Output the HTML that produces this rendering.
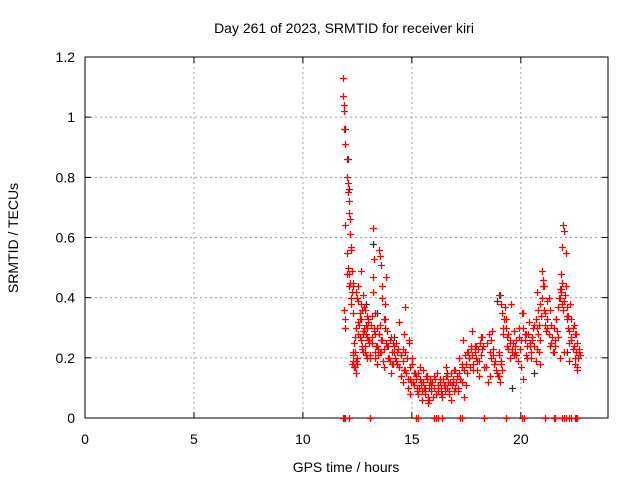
<!DOCTYPE html>
<html><head><meta charset="utf-8"><style>
body{margin:0;background:#fff}
svg{display:block;font-family:"Liberation Sans",sans-serif}
</style></head><body>
<svg id="chart" width="640" height="480" viewBox="0 0 640 480">
<rect width="640" height="480" fill="#fff"/>
<text x="344" y="33" font-size="14" text-anchor="middle">Day 261 of 2023, SRMTID for receiver kiri</text>
<g id="grid"></g>
<g id="axes"></g>
<g id="black"></g>
<g id="red"></g>
<text x="346" y="472" font-size="14" text-anchor="middle">GPS time / hours</text>
<text transform="translate(18,238) rotate(-90)" font-size="14" text-anchor="middle">SRMTID / TECUs</text>
</svg>
<script>
const xTicks=[0,5,10,15,20];
const yTicks=[0,0.2,0.4,0.6,0.8,1,1.2];
const yTickLabels=["0","0.2","0.4","0.6","0.8","1","1.2"];
const redT=[11.85,11.86,11.87,11.88,11.9,11.95,12.0,12.02,12.05,12.07,12.1,12.12,12.15,12.18,12.2,12.22,12.25,11.95,12.0,12.05,12.1,12.15,12.2,12.25,11.9,11.92,11.95,12.0,12.1,12.2,12.3,12.35,12.4,12.45,12.5,12.55,12.6,12.65,12.7,12.75,12.8,12.85,12.9,12.95,13.0,12.3,12.4,12.5,12.6,12.7,12.8,12.9,13.0,12.35,12.45,12.55,12.65,12.75,12.85,12.95,13.05,13.1,13.15,13.2,13.25,13.3,13.35,13.4,13.2,13.22,13.25,13.3,13.5,13.55,13.6,13.62,13.65,13.7,13.5,13.6,13.7,13.8,13.9,14.0,14.1,14.2,13.75,13.85,13.95,14.05,14.15,14.25,14.3,14.4,14.5,14.6,14.65,14.7,14.4,14.5,14.6,14.7,14.8,14.85,14.9,15.0,15.1,15.2,15.3,15.4,15.5,15.6,15.7,15.8,15.9,16.0,14.9,15.05,15.15,15.25,15.35,15.45,15.55,15.65,15.75,15.85,16.1,16.2,16.3,16.4,16.5,16.6,16.7,16.8,16.9,17.0,16.15,16.35,16.55,16.75,16.95,17.1,17.2,17.3,17.4,17.5,17.6,17.7,17.8,17.9,18.0,18.1,18.2,18.3,17.15,17.35,17.55,17.75,17.95,18.15,18.4,18.5,18.6,18.7,18.8,18.45,18.65,18.85,18.95,19.0,19.05,19.1,19.15,19.2,19.0,19.1,19.3,19.4,19.5,19.6,19.7,19.8,19.85,19.35,19.55,19.75,19.9,20.0,20.1,20.2,20.3,20.4,20.5,20.6,20.05,20.25,20.45,20.7,20.75,20.8,20.85,20.9,20.95,21.0,20.75,20.9,21.05,21.1,21.2,21.3,21.4,21.15,21.35,21.5,21.6,21.7,21.8,21.55,21.75,21.85,21.88,21.9,21.92,21.85,21.9,21.95,22.0,22.05,22.1,22.15,22.2,22.25,22.3,22.0,22.1,22.2,22.4,22.45,22.5,22.55,22.6,22.65,22.7,22.5,22.6,
12.28,12.32,12.38,12.42,12.48,12.52,12.58,12.62,12.68,12.72,12.78,12.82,12.88,12.92,12.98,13.02,13.08,13.12,13.18,13.28,13.32,13.38,13.42,13.45,13.48,13.52,13.58,13.68,13.72,13.78,13.82,13.88,13.92,13.98,14.02,14.08,14.12,14.18,14.22,14.28,14.32,14.38,14.42,14.48,14.52,14.58,14.62,14.68,14.72,14.78,14.82,14.88,14.92,14.98,15.02,15.08,15.12,15.18,15.22,15.28,15.32,15.38,15.42,15.48,15.52,15.58,15.62,15.68,15.72,15.78,15.82,15.88,15.92,15.98,16.02,16.08,16.12,16.18,16.22,16.28,16.32,16.38,16.42,16.48,16.52,16.58,16.62,16.68,16.72,16.78,16.82,16.88,16.92,16.98,17.02,17.08,17.12,17.18,17.22,17.28,17.32,17.38,17.42,17.48,17.52,17.58,17.62,17.68,17.72,17.78,17.82,17.88,17.92,17.98,18.02,18.08,18.12,18.18,18.22,18.28,18.52,18.58,18.62,18.68,18.72,18.78,18.92,18.98,19.02,19.08,19.12,19.18,19.22,19.28,19.32,19.38,19.42,19.48,19.52,19.58,19.62,19.68,19.72,19.78,19.92,19.98,20.02,20.08,20.12,20.18,20.22,20.28,20.32,20.38,20.42,20.48,20.52,20.58,20.62,20.68,20.72,20.78,20.82,20.88,20.92,20.98,21.02,21.08,21.12,21.18,21.22,21.28,21.32,21.38,21.42,21.48,21.52,21.58,21.62,21.68,21.72,21.78,21.82,21.98,22.02,22.08,22.12,22.18,22.22,22.28,22.32,22.38,22.42,22.48,22.52,22.58,22.62,22.68,12.25,12.3,12.35,12.45,12.55,12.65,12.75,12.85,12.95,13.05,13.15,13.3,13.45,13.55,13.65,13.75,13.85];
const redV=[1.13,1.07,1.04,1.02,0.96,0.91,0.86,0.80,0.78,0.75,0.72,0.68,0.66,0.61,0.57,0.56,0.49,0.64,0.55,0.50,0.48,0.45,0.40,0.42,0.36,0.33,0.30,0.48,0.44,0.38,0.35,0.25,0.22,0.30,0.40,0.28,0.33,0.26,0.36,0.22,0.30,0.24,0.28,0.20,0.32,0.45,0.27,0.18,0.35,0.24,0.29,0.21,0.26,0.17,0.42,0.32,0.38,0.28,0.22,0.34,0.25,0.20,0.27,0.63,0.53,0.35,0.24,0.18,0.47,0.42,0.30,0.20,0.56,0.54,0.51,0.44,0.40,0.33,0.28,0.22,0.17,0.25,0.20,0.26,0.18,0.22,0.30,0.24,0.20,0.15,0.25,0.19,0.22,0.17,0.14,0.23,0.28,0.37,0.32,0.21,0.12,0.16,0.10,0.25,0.13,0.18,0.11,0.14,0.08,0.12,0.16,0.09,0.13,0.06,0.11,0.14,0.08,0.12,0.15,0.10,0.17,0.06,0.10,0.14,0.05,0.12,0.08,0.10,0.13,0.07,0.11,0.14,0.09,0.06,0.12,0.10,0.15,0.08,0.17,0.12,0.16,0.09,0.13,0.18,0.07,0.11,0.20,0.24,0.16,0.22,0.19,0.14,0.23,0.17,0.20,0.26,0.22,0.29,0.24,0.27,0.17,0.12,0.14,0.21,0.19,0.25,0.20,0.16,0.14,0.22,0.12,0.18,0.35,0.30,0.41,0.38,0.33,0.28,0.25,0.23,0.21,0.26,0.19,0.24,0.38,0.22,0.30,0.17,0.13,0.28,0.20,0.24,0.26,0.31,0.35,0.28,0.22,0.33,0.30,0.36,0.22,0.18,0.49,0.46,0.42,0.38,0.44,0.35,0.30,0.40,0.25,0.29,0.36,0.22,0.33,0.27,0.20,0.24,0.40,0.42,0.45,0.38,0.36,0.48,0.57,0.64,0.62,0.55,0.33,0.30,0.25,0.38,0.27,0.22,0.34,0.19,0.23,0.31,0.20,0.28,0.17,0.23,0.21,0.18,0.16,0.22,0.19,0.17,0.15,0.20,
0.39,0.31,0.27,0.33,0.23,0.29,0.37,0.31,0.27,0.33,0.26,0.21,0.31,0.25,0.29,0.22,0.30,0.24,0.21,0.28,0.22,0.26,0.19,0.23,0.38,0.47,0.29,0.24,0.19,0.27,0.22,0.18,0.24,0.20,0.25,0.18,0.23,0.17,0.21,0.14,0.19,0.16,0.22,0.15,0.20,0.13,0.26,0.17,0.12,0.20,0.15,0.11,0.13,0.09,0.15,0.10,0.13,0.11,0.09,0.12,0.08,0.10,0.14,0.07,0.11,0.13,0.09,0.12,0.07,0.10,0.13,0.08,0.11,0.09,0.12,0.10,0.08,0.13,0.11,0.09,0.14,0.10,0.12,0.08,0.15,0.11,0.13,0.09,0.16,0.12,0.14,0.10,0.15,0.13,0.17,0.12,0.16,0.21,0.18,0.15,0.22,0.20,0.17,0.23,0.21,0.18,0.24,0.20,0.16,0.23,0.19,0.25,0.21,0.27,0.24,0.28,0.22,0.26,0.29,0.23,0.18,0.15,0.21,0.14,0.19,0.16,0.28,0.33,0.37,0.30,0.27,0.23,0.20,0.26,0.22,0.25,0.29,0.24,0.21,0.27,0.23,0.26,0.30,0.35,0.26,0.21,0.24,0.28,0.32,0.25,0.20,0.27,0.30,0.24,0.19,0.23,0.28,0.31,0.26,0.34,0.40,0.44,0.36,0.31,0.39,0.33,0.28,0.24,0.31,0.27,0.22,0.30,0.26,0.33,0.29,0.37,0.40,0.43,0.39,0.41,0.44,0.37,0.34,0.29,0.33,0.26,0.30,0.24,0.28,0.22,0.25,0.20,0.22,0.18,0.21,0.17,0.19,0.44,0.49,0.41,0.36,0.30,0.26,0.34,0.28,0.23,0.31,0.26,0.33,0.24,0.21,0.29,0.23,0.19];
const zeroT=[11.83,11.88,11.93,12.1,13.1,15.2,15.3,16.0,16.1,16.2,16.4,17.2,17.3,18.3,19.3,20.05,20.15,21.1,21.5,21.55,21.9,22.0,22.05,22.2,22.3,22.5,22.55,22.6];
const blackT=[11.95,12.05,12.1,12.3,12.9,13.2,13.4,14.2,15.8,16.6,18.9,19.05,19.6,20.6,21.4,21.85,22.1];
const blackV=[0.96,0.86,0.76,0.44,0.38,0.58,0.35,0.27,0.10,0.15,0.39,0.41,0.10,0.15,0.25,0.43,0.22];

const X0=85,X1=608,Y0=418,Y1=57;
const xs=h=>X0+h*(X1-X0)/24;
const ys=v=>Y0-v*(Y0-Y1)/1.2;
const NS="http://www.w3.org/2000/svg";
function mk(tag,attrs,parent){const e=document.createElementNS(NS,tag);for(const k in attrs)e.setAttribute(k,attrs[k]);parent.appendChild(e);return e;}
const grid=document.getElementById('grid'),axes=document.getElementById('axes');
xTicks.forEach(t=>{
  const x=xs(t);
  if(t>0){const g=mk('line',{x1:x,y1:Y1,x2:x,y2:Y0,stroke:'#a0a0a0','stroke-dasharray':'2,3'},grid);
  
  }
  mk('line',{x1:x,y1:Y0,x2:x,y2:Y0-6,stroke:'#000'},axes);
  mk('line',{x1:x,y1:Y1,x2:x,y2:Y1+6,stroke:'#000'},axes);
  const l=mk('text',{x:x,y:Y0+26,'font-size':14,'text-anchor':'middle'},axes);l.textContent=t;
  
  
});
yTicks.forEach((t,i)=>{
  const y=ys(t);
  if(i>0&&i<yTicks.length-1){const g=mk('line',{x1:X0,y1:y,x2:X1,y2:y,stroke:'#a0a0a0','stroke-dasharray':'2,3'},grid);
  
  }
  mk('line',{x1:X0,y1:y,x2:X0+6,y2:y,stroke:'#000'},axes);
  mk('line',{x1:X1,y1:y,x2:X1-6,y2:y,stroke:'#000'},axes);
  const l=mk('text',{x:X0-10,y:y+5,'font-size':14,'text-anchor':'end'},axes);l.textContent=yTickLabels[i];
  
  
});
mk('rect',{x:X0,y:Y1,width:X1-X0,height:Y0-Y1,fill:'none',stroke:'#000'},axes);
function plus(g,h,v,col){
  const x=Math.round(xs(h))+0.5,y=Math.round(ys(v))+0.5;
  const p=mk('path',{d:`M${x-3.5},${y}h7M${x},${y-3.5}v7`,stroke:col,'stroke-width':1.3},g);
  
  
}
const bg=document.getElementById('black'),rg=document.getElementById('red');
blackT.forEach((t,i)=>plus(bg,t,blackV[i],'#333'));
redT.forEach((t,i)=>plus(rg,t,redV[i],'#ff0000'));
zeroT.forEach(t=>plus(rg,t,0,'#ff0000'));
</script>
</body></html>
